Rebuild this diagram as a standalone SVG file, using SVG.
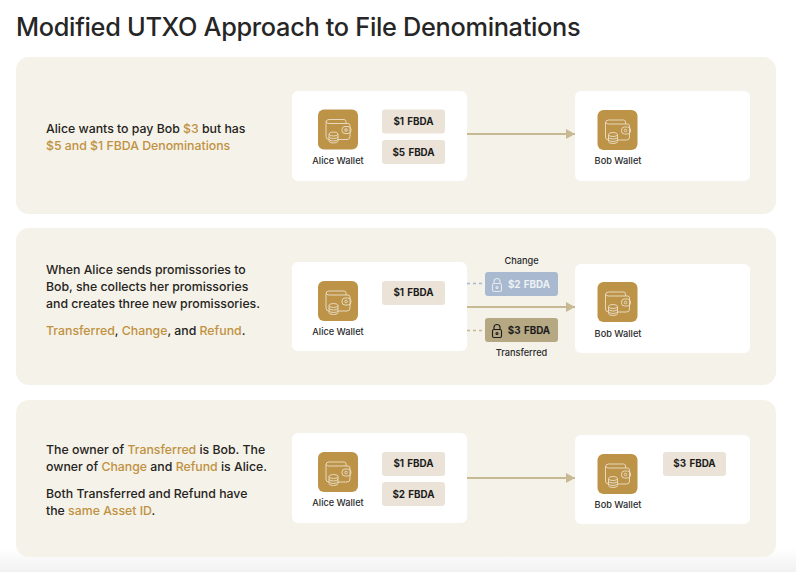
<svg xmlns="http://www.w3.org/2000/svg" width="796" height="572" viewBox="0 0 796 572">
<style>
text{font-family:"Inter","Liberation Sans",sans-serif;fill:#1c1c1c}
.title{font-size:25.3px;font-weight:500;letter-spacing:-.3px;fill:#262626}
.body{font-size:12.3px;font-weight:500;fill:#262420}
.g{fill:#c0913f}
.w{font-size:9.2px;font-weight:500;text-anchor:middle;fill:#2a2a2a}
.f{font-size:9.8px;font-weight:700;text-anchor:middle;word-spacing:1px}
.panel{fill:#f5f2ea}
.card{fill:#fff}
.chip{fill:#ebe3d7}
.ic{fill:#bd9347}
.gl{fill:none;stroke:#e6d8bd;stroke-width:1}
.line{stroke:#c6b994;stroke-width:2;fill:none}
.dash{stroke-width:1.3;stroke-dasharray:3 3;fill:none}
</style>
<defs>
<linearGradient id="fade" x1="0" y1="0" x2="0" y2="1"><stop offset="0" stop-color="#fff"/><stop offset="1" stop-color="#f1f1f1"/></linearGradient>
<marker id="arr" markerUnits="userSpaceOnUse" markerWidth="10" markerHeight="12" refX="9" refY="5" orient="auto"><path d="M0 0L9 5L0 10Z" fill="#c6b994"/></marker>
<g id="wallet">
<rect width="40" height="40" rx="6" class="ic"/>
<path class="gl" d="M8 13a3 3 0 0 1 3-3h15a2 2 0 0 1 2 2v2M8 13v14a3 3 0 0 0 3 3h18a3 3 0 0 0 3-3v-11a2 2 0 0 0-2-2H11a3 3 0 0 1-3-2"/>
<rect class="gl" x="24" y="17" width="9" height="7" rx="3"/>
<circle class="gl" cx="28" cy="20.500" r="1.300"/>
<path d="M11 24.500a4.500 2 0 0 1 9 0v7a4.500 2 0 0 1-9 0Z" fill="#bd9347" stroke="#e6d8bd"/>
<path class="gl" d="M11 24.500a4.500 2 0 0 0 9 0M11 27a4.500 2 0 0 0 9 0M11 29.500a4.500 2 0 0 0 9 0"/>
</g>
<g id="lock"><rect x="-4.500" y="-1.500" width="9" height="8" rx="1.500"/><path d="M-3 -1.500v-2a3 3 0 0 1 6 0v2"/><circle cx="0" cy="2.500" r="1"/></g>
</defs>
<rect width="796" height="572" fill="#fff"/>
<rect y="548" width="796" height="24" fill="url(#fade)"/>
<text class="title" x="16" y="36">Modified UTXO Approach to File Denominations</text>

<g id="panel-1">
<rect class="panel" x="16" y="57" width="760" height="157" rx="13"/>
<text class="body" x="46" y="133">Alice wants to pay Bob <tspan class="g">$3</tspan> but has</text>
<text class="body" x="46" y="150"><tspan class="g">$5 and $1 FBDA Denominations</tspan></text>
</g>
<g id="panel-2">
<rect class="panel" x="16" y="228" width="760" height="157" rx="13"/>
<text class="body" x="46" y="274">When Alice sends promissories to</text>
<text class="body" x="46" y="291">Bob, she collects her promissories</text>
<text class="body" x="46" y="308">and creates three new promissories.</text>
<text class="body" x="46" y="335"><tspan class="g">Transferred</tspan>, <tspan class="g">Change</tspan>, and <tspan class="g">Refund</tspan>.</text>
</g>
<g id="panel-3">
<rect class="panel" x="16" y="400" width="760" height="157" rx="13"/>
<text class="body" x="46" y="454">The owner of <tspan class="g">Transferred</tspan> is Bob. The</text>
<text class="body" x="46" y="471">owner of <tspan class="g">Change</tspan> and <tspan class="g">Refund</tspan> is Alice.</text>
<text class="body" x="46" y="498">Both Transferred and Refund have</text>
<text class="body" x="46" y="515">the <tspan class="g">same Asset ID</tspan>.</text>
</g>

<g id="connectors">
<path class="line" d="M467 134H575" marker-end="url(#arr)"/>
<path class="line" d="M467 307H575" marker-end="url(#arr)"/>
<path class="line" d="M467 478H575" marker-end="url(#arr)"/>
<path class="dash" stroke="#a9b9cf" d="M467 283.500H485"/>
<path class="dash" stroke="#c6b994" d="M467 330.500H485"/>
</g>

<g id="alice-1">
<rect class="card" x="292" y="91" width="175" height="90" rx="6"/>
<use href="#wallet" x="318" y="109.500"/>
<text class="w" x="338" y="164">Alice Wallet</text>
</g>
<g id="chip-1a"><rect class="chip" x="382" y="109.500" width="63" height="24" rx="3"/><text class="f" x="413.500" y="125">$1 FBDA</text></g>
<g id="chip-1b"><rect class="chip" x="382" y="140" width="63" height="24" rx="3"/><text class="f" x="413.500" y="156">$5 FBDA</text></g>
<g id="bob-1">
<rect class="card" x="575" y="91" width="175" height="90" rx="6"/>
<use href="#wallet" x="597.500" y="110"/>
<text class="w" x="618" y="164">Bob Wallet</text>
</g>

<g id="alice-2">
<rect class="card" x="292" y="262" width="175" height="89" rx="6"/>
<use href="#wallet" x="318" y="281"/>
<text class="w" x="338" y="335">Alice Wallet</text>
</g>
<g id="chip-2a"><rect class="chip" x="382" y="281" width="63" height="24" rx="3"/><text class="f" x="413.500" y="296">$1 FBDA</text></g>
<g id="bob-2">
<rect class="card" x="575" y="264" width="175" height="89" rx="6"/>
<use href="#wallet" x="597.500" y="282"/>
<text class="w" x="618" y="337">Bob Wallet</text>
</g>
<g id="change">
<text class="w" x="521.500" y="264">Change</text>
<rect x="485" y="272" width="73" height="24" rx="3" fill="#a9b9cf"/>
<use href="#lock" x="497" y="285" fill="none" stroke="#e4e8ee" stroke-width="1.100"/>
<text class="f" x="529" y="288" style="fill:#eef1f5">$2 FBDA</text>
</g>
<g id="transferred">
<rect x="485" y="318" width="73" height="24" rx="3" fill="#b5a883"/>
<use href="#lock" x="497" y="331" fill="none" stroke="#1c1c1c" stroke-width="1.100"/>
<text class="f" x="529" y="334">$3 FBDA</text>
<text class="w" x="521.500" y="356">Transferred</text>
</g>

<g id="alice-3">
<rect class="card" x="292" y="433" width="175" height="90" rx="6"/>
<use href="#wallet" x="318" y="452"/>
<text class="w" x="338" y="506">Alice Wallet</text>
</g>
<g id="chip-3a"><rect class="chip" x="382" y="452" width="63" height="24" rx="3"/><text class="f" x="413.500" y="467">$1 FBDA</text></g>
<g id="chip-3b"><rect class="chip" x="382" y="482" width="63" height="24" rx="3"/><text class="f" x="413.500" y="498">$2 FBDA</text></g>
<g id="bob-3">
<rect class="card" x="575" y="435" width="175" height="89" rx="6"/>
<use href="#wallet" x="597.500" y="454"/>
<text class="w" x="618" y="508">Bob Wallet</text>
</g>
<g id="chip-3c"><rect class="chip" x="663" y="452" width="63" height="24" rx="3"/><text class="f" x="694.500" y="467">$3 FBDA</text></g>
</svg>
